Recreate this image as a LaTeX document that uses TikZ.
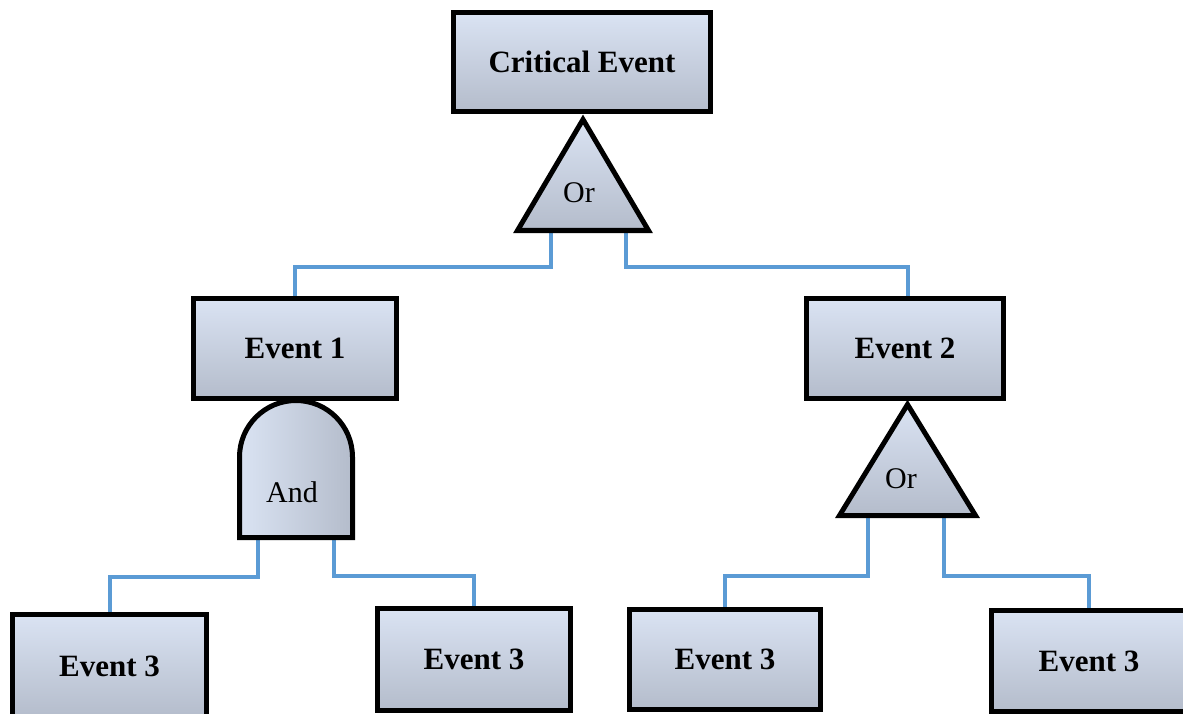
\documentclass[tikz,border=0pt]{standalone}
\usepackage{fontspec}
\setmainfont{Liberation Serif}
\usetikzlibrary{backgrounds}

\definecolor{boxtop}{RGB}{218,227,243}
\definecolor{boxbot}{RGB}{180,188,203}
\definecolor{wireblue}{RGB}{91,155,213}

\tikzset{
  event/.style={draw=black, line width=5pt, rectangle, inner sep=0pt,
    top color=boxtop, bottom color=boxbot,
    font=\fontsize{31}{37}\selectfont\bfseries},
  gateshape/.style={draw=black, line width=5pt, line join=miter,
    top color=boxtop, bottom color=boxbot},
  andshape/.style={draw=black, line width=5pt, line join=miter,
    left color=boxtop, right color=boxbot},
  gatelabel/.style={inner sep=0pt, font=\fontsize{30}{36}\selectfont},
  wire/.style={draw=wireblue, line width=4pt, line join=miter}
}

\begin{document}
\begin{tikzpicture}[x=1pt, y=-1pt]
\useasboundingbox (0,0) rectangle (1183,714);
\clip (0,0) rectangle (1183,714);

% event boxes
\node[event, minimum width=257pt, minimum height=99pt]  (ce)  at (582,62)      {Critical Event};
\node[event, minimum width=203pt, minimum height=100pt] (e1)  at (295,348.5)   {Event 1};
\node[event, minimum width=197pt, minimum height=100pt] (e2)  at (905,348.5)   {Event 2};
\node[event, minimum width=194pt, minimum height=104pt] (e3a) at (109.5,666.5) {Event 3};
\node[event, minimum width=193pt, minimum height=102pt] (e3b) at (474,659.5)   {Event 3};
\node[event, minimum width=191pt, minimum height=100pt] (e3c) at (725,659.5)   {Event 3};
\node[event, minimum width=195pt, minimum height=101pt] (e3d) at (1089,661)    {Event 3};

% gates
\path[gateshape] (583,119.5) -- (517.5,230.5) -- (648.5,230.5) -- cycle;
\node[gatelabel] (g1) at (579,193) {Or};

\path[gateshape] (907.5,404.5) -- (839.5,515.5) -- (975.5,515.5) -- cycle;
\node[gatelabel] (g2) at (901,479) {Or};

\path[andshape] (239.5,537.5) -- (239.5,457)
  arc[start angle=180, end angle=0, radius=56.5pt] -- (352.5,537.5) -- cycle;
\node[gatelabel] (a1) at (292,492) {And};

% gate inputs, bus levels and drop points
\coordinate (g1l) at (551,230);
\coordinate (g1r) at (626,230);
\coordinate (a1l) at (258,537);
\coordinate (a1r) at (334,537);
\coordinate (g2l) at (868,515);
\coordinate (g2r) at (944,515);
\coordinate (bustop) at (0,267);
\coordinate (busand) at (0,577);
\coordinate (busandr) at (0,576);
\coordinate (busor) at (0,576);
\coordinate (e2in) at ([xshift=3pt]e2.north);

\begin{pgfonlayer}{background}
  \fill[white] (0,0) rectangle (1183,714);
  \draw[wire] (g1l) |- (e1.north |- bustop) -- (e1.north);
  \draw[wire] (g1r) |- (e2in |- bustop) -- (e2in);
  \draw[wire] (a1l) |- (e3a.north |- busand) -- (e3a.north);
  \draw[wire] (a1r) |- (e3b.north |- busandr) -- (e3b.north);
  \draw[wire] (g2l) |- (e3c.north |- busor) -- (e3c.north);
  \draw[wire] (g2r) |- (e3d.north |- busor) -- (e3d.north);
\end{pgfonlayer}
\end{tikzpicture}
\end{document}
